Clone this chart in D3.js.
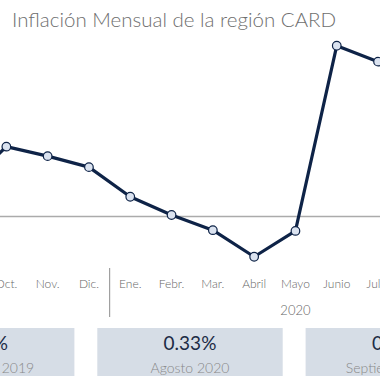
<!DOCTYPE html>
<html>
<head>
<meta charset="utf-8">
<script src="https://cdn.jsdelivr.net/npm/d3@7"></script>
<style>
  html, body { margin: 0; padding: 0; background: #ffffff; }
  svg { display: block; }
  text { font-family: "Lato", "Open Sans", sans-serif; }
</style>
</head>
<body>
<svg id="chart" width="380" height="380"></svg>
<script>
// ---- data ----
const title = "Inflación Mensual de la región CARD";
const months = ["Jun.", "Jul.", "Agos.", "Sep.", "Oct.", "Nov.", "Dic.", "Ene.", "Febr.", "Mar.", "Abril", "Mayo", "Junio", "Julio", "Agos.", "Sept."];
const years = ["2019", "2019", "2019", "2019", "2019", "2019", "2019", "2020", "2020", "2020", "2020", "2020", "2020", "2020", "2020", "2020"];
const values = [0.2, 0.15, 0.1, 0.08, 0.184, 0.159, 0.13, 0.052, 0.004, -0.036, -0.106, -0.038, 0.45, 0.408, 0.33, 0.38];
const boxValues = ["0.08%", "0.33%", "0.38%"];
const boxLabels = ["Septiembre 2019", "Agosto 2020", "Septiembre 2020"];

// ---- layout ----
const W = 380, H = 380;
const svg = d3.select("#chart");

const keys = months.map((m, i) => i);
const step = 41.3;
const x = d3.scaleBand().domain(keys).range([-55.6 - 3 * step, -55.6 + step * (months.length - 3)]).padding(0);
const cx = i => x(i) + x.bandwidth() / 2;
const y = d3.scaleLinear().domain([0, 0.45]).range([216.5, 45.7]);

// title
svg.append("text")
  .attr("x", 12).attr("y", 27)
  .attr("font-size", 20.5)
  .attr("font-weight", 300)
  .attr("fill", "#6e6e6e")
  .text(title);

// zero line
svg.append("line")
  .attr("x1", 0).attr("x2", W)
  .attr("y1", y(0)).attr("y2", y(0))
  .attr("stroke", "#ababab").attr("stroke-width", 1.5);

// line
const line = d3.line().x((d, i) => cx(i)).y(d => y(d));
svg.append("path")
  .datum(values)
  .attr("d", line)
  .attr("fill", "none")
  .attr("stroke", "#0e2347")
  .attr("stroke-width", 3.2)
  .attr("stroke-linejoin", "round");

svg.selectAll("circle.pt")
  .data(values)
  .join("circle")
  .attr("class", "pt")
  .attr("cx", (d, i) => cx(i))
  .attr("cy", d => y(d))
  .attr("r", 4.3)
  .attr("fill", "#dbe3f0")
  .attr("stroke", "#0e2347")
  .attr("stroke-width", 1.2);

// month labels
svg.selectAll("text.month")
  .data(months)
  .join("text")
  .attr("class", "month")
  .attr("x", (d, i) => cx(i))
  .attr("y", 288)
  .attr("text-anchor", "middle")
  .attr("font-size", 12)
  .attr("font-weight", 300)
  .attr("fill", "#666666")
  .text(d => d);

// year groups
const yearGroups = d3.groups(keys, i => years[i]);
yearGroups.forEach(([yr, idx], gi) => {
  const x0 = x(idx[0]);
  const x1 = x(idx[idx.length - 1]) + x.bandwidth();
  svg.append("text")
    .attr("x", (x0 + x1) / 2)
    .attr("y", 315)
    .attr("text-anchor", "middle")
    .attr("font-size", 13)
    .attr("font-weight", 300)
    .attr("fill", "#666666")
    .text(yr);
  if (gi > 0) {
    svg.append("line")
      .attr("x1", x0).attr("x2", x0)
      .attr("y1", 268).attr("y2", 317)
      .attr("stroke", "#a0a0a0").attr("stroke-width", 1.2);
  }
});

// bottom boxes
const bx = d3.scaleLinear().domain([0, 1]).range([-111, 97.3]);
const bw = 185.4;
const boxes = svg.selectAll("g.box")
  .data(boxLabels)
  .join("g")
  .attr("class", "box")
  .attr("transform", (d, i) => `translate(${bx(i)},328)`);
boxes.append("rect")
  .attr("width", bw).attr("height", 48)
  .attr("fill", "#d6dde6");
boxes.append("text")
  .attr("x", bw / 2).attr("y", 21.5)
  .attr("text-anchor", "middle")
  .attr("font-size", 19)
  .attr("fill", "#1c2b45")
  .text((d, i) => boxValues[i]);
boxes.append("text")
  .attr("x", bw / 2).attr("y", 45)
  .attr("text-anchor", "middle")
  .attr("font-size", 14)
  .attr("font-weight", 300)
  .attr("fill", "#888888")
  .text(d => d);
</script>
</body>
</html>
